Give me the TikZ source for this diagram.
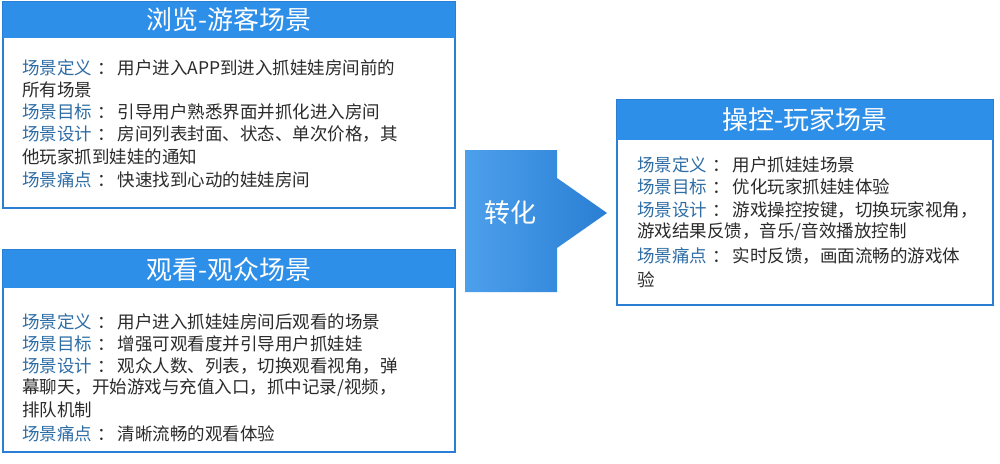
\documentclass[tikz,border=0pt]{standalone}
\usepackage{fontspec}
\setmainfont{Noto Sans CJK SC}
\usetikzlibrary{positioning}
\definecolor{bb}{HTML}{2E8FE8}
\definecolor{bd}{HTML}{2A7FD4}
\definecolor{lab}{HTML}{2F6DA5}
\definecolor{tx}{HTML}{2B2B2B}
\tikzset{x=1pt,y=-1pt,
 frame/.style={draw=bd,line width=2.5pt,fill=white},
 head/.style={fill=bb},
 ttl/.style={text=white,font=\fontsize{26}{26}\selectfont},
 ln/.style={anchor=west,inner sep=0,text=tx,font=\fontsize{17.5}{17.5}\selectfont},
}
\newcommand{\lb}[1]{\textcolor{lab}{#1}\hspace{5pt}：\hspace{3pt}}
\begin{document}
\begin{tikzpicture}
\useasboundingbox (0,0) rectangle (1000,463);
% top left
\draw[frame] (3,2) rectangle (455,208);
\fill[head] (3,2) rectangle (455,38);
\node[ttl] (t1) at (229,20) {浏览-游客场景};
\node[ln] (a1) at (22,68) {\lb{场景定义}用户进入APP到进入抓娃娃房间前的};
\node[ln] (a2) at (22,90) {所有场景};
\node[ln] (a3) at (22,112) {\lb{场景目标}引导用户熟悉界面并抓化进入房间};
\node[ln] (a4) at (22,134) {\lb{场景设计}房间列表封面、状态、单次价格，其};
\node[ln] (a5) at (22,157) {他玩家抓到娃娃的通知};
\node[ln] (a6) at (22,180) {\lb{场景痛点}快速找到心动的娃娃房间};
% bottom left
\draw[frame] (3,250) rectangle (455,452);
\fill[head] (3,250) rectangle (455,288);
\node[ttl] (t2) at (229,270) {观看-观众场景};
\node[ln] (b1) at (22,322) {\lb{场景定义}用户进入抓娃娃房间后观看的场景};
\node[ln] (b2) at (22,344) {\lb{场景目标}增强可观看度并引导用户抓娃娃};
\node[ln] (b3) at (22,366) {\lb{场景设计}观众人数、列表，切换观看视角，弹};
\node[ln] (b4) at (22,388) {幕聊天，开始游戏与充值入口，抓中记录/视频，};
\node[ln] (b5) at (22,410) {排队机制};
\node[ln] (b6) at (22,434) {\lb{场景痛点}清晰流畅的观看体验};
% arrow
\shade[left color=bb!85!white,right color=bd] (465,150) -- (557,150) -- (557,178) -- (607,213) -- (557,248) -- (557,292) -- (465,292) -- cycle;
\node[ttl] (c) at (510,213) {转化};
% right
\draw[frame] (617,100) rectangle (993,305);
\fill[head] (617,100) rectangle (993,140);
\node[ttl] (t3) at (805,120) {操控-玩家场景};
\node[ln] (r1) at (637,165) {\lb{场景定义}用户抓娃娃场景};
\node[ln] (r2) at (637,187) {\lb{场景目标}优化玩家抓娃娃体验};
\node[ln] (r3) at (637,210) {\lb{场景设计}游戏操控按键，切换玩家视角，};
\node[ln] (r4) at (637,232) {游戏结果反馈，音乐/音效播放控制};
\node[ln] (r5) at (637,256) {\lb{场景痛点}实时反馈，画面流畅的游戏体};
\node[ln] (r6) at (637,280) {验};
\end{tikzpicture}
\end{document}
